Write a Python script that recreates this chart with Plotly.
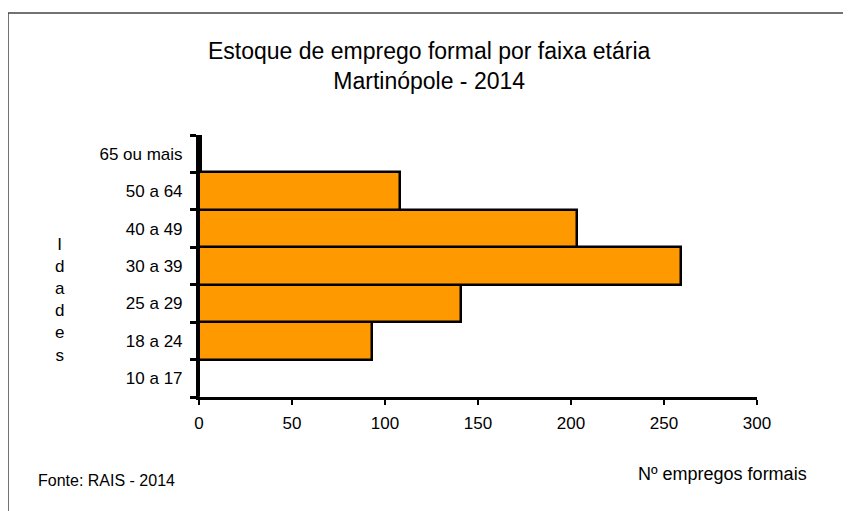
import plotly.graph_objects as go

categories = ["10 a 17", "18 a 24", "25 a 29", "30 a 39", "40 a 49", "50 a 64", "65 ou mais"]
values = [0, 93, 141, 259, 203, 108, 1]
x_ticks = [0, 50, 100, 150, 200, 250, 300]

OFF = 8  # page body margin
W, H = 851 - OFF, 511 - OFF
L, R, T, B = 199 - OFF, 757 - OFF, 135 - OFF, 397 - OFF

def px(X):
    return (X - OFF - L) / (R - L)

def py(Y):
    return (B - (Y - OFF)) / (B - T)

font = "Liberation Sans, Arial, sans-serif"

fig = go.Figure(go.Bar(
    y=categories, x=values, orientation="h",
    marker=dict(color="#FF9900", line=dict(color="black", width=2.5)),
    hoverinfo="x+y",
))

fig.update_layout(
    width=W, height=H,
    margin=dict(l=L, r=W - R, t=T, b=H - B, pad=0),
    paper_bgcolor="white", plot_bgcolor="white",
    bargap=0, showlegend=False,
    font=dict(family=font, size=17, color="black"),
    xaxis=dict(range=[0, 300], tickvals=x_ticks, showgrid=False, zeroline=False,
               showline=True, linecolor="black", linewidth=3,
               ticks="outside", ticklen=5, tickwidth=2, tickcolor="black",
               ticklabelstandoff=4,
               tickfont=dict(size=17), fixedrange=True),
    yaxis=dict(type="category", categoryorder="array", categoryarray=categories,
               showgrid=False, zeroline=False,
               showline=True, linecolor="black", linewidth=3,
               ticks="outside", tickson="boundaries", ticklen=6, tickwidth=2.5,
               tickcolor="black", ticklabelstandoff=10,
               tickfont=dict(size=17), fixedrange=True),
)

annotations = [
    dict(text="Estoque de emprego formal por faixa etária<br>Martinópole - 2014",
         x=px(429), y=py(66), xanchor="center", yanchor="middle",
         font=dict(size=23)),
    dict(text="I<br>d<br>a<br>d<br>e<br>s", x=px(60), y=py(300),
         xanchor="center", yanchor="middle", font=dict(size=17)),
    dict(text="Fonte: RAIS - 2014", x=px(36), y=py(481), xanchor="left",
         yanchor="middle", font=dict(size=16)),
    dict(text="Nº empregos formais", x=px(636), y=py(474), xanchor="left",
         yanchor="middle", font=dict(size=18)),
]
for a in annotations:
    a.update(xref="paper", yref="paper", showarrow=False)
fig.update_layout(annotations=annotations)

fig.add_shape(type="rect", xref="paper", yref="paper",
              x0=px(8), x1=px(870), y0=py(530), y1=py(13),
              line=dict(color="#444", width=1.5), fillcolor="rgba(0,0,0,0)", layer="below")

fig.write_html("out.html")
